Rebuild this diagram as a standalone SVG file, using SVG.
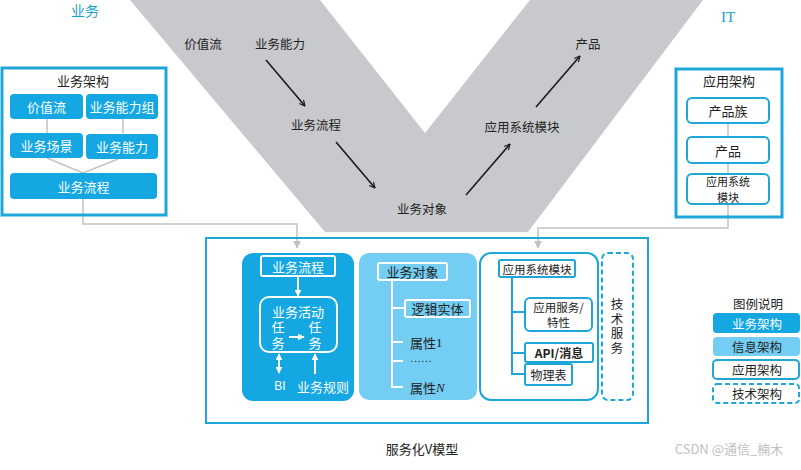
<svg xmlns="http://www.w3.org/2000/svg" width="801" height="470" viewBox="0 0 801 470">
<defs>
<style>
text{font-family:"Noto Sans CJK SC","Noto Sans",sans-serif;dominant-baseline:central;text-anchor:middle}
.vt{font-size:12.5px;fill:#222}
.t13{font-size:13px}
.w{fill:#fff}
.d{fill:#222}
.dark{fill:#14a7e2}
.light{fill:#74cdf2}
.frame{fill:none;stroke:#1ea6d8;stroke-width:3}
.wbox{fill:#fff;stroke:#1ea6d8;stroke-width:2}
.wstroke{fill:none;stroke:#fff;stroke-width:2}
.gl{fill:none;stroke:#c2c2c2;stroke-width:1.5}
.ar{stroke:#1a1a1a;stroke-width:1.6;fill:none;marker-end:url(#open)}
.dash{fill:#fff;stroke:#1ea6d8;stroke-width:2;stroke-dasharray:5 3}
.vert{writing-mode:vertical-rl}
</style>
<marker id="open" viewBox="0 0 10 10" refX="9" refY="5" markerWidth="7" markerHeight="7" orient="auto" markerUnits="userSpaceOnUse">
<path d="M1,1 L9,5 L1,9" fill="none" stroke="#1a1a1a" stroke-width="1.6"/>
</marker>
<marker id="gtri" viewBox="0 0 10 10" refX="9" refY="5" markerWidth="8" markerHeight="8" orient="auto" markerUnits="userSpaceOnUse">
<path d="M0,0 L10,5 L0,10 z" fill="#c2c2c2"/>
</marker>
<marker id="wtri" viewBox="0 0 10 10" refX="9" refY="5" markerWidth="7" markerHeight="7" orient="auto" markerUnits="userSpaceOnUse">
<path d="M0,0 L10,5 L0,10 z" fill="#fff"/>
</marker>
<marker id="wtriS" viewBox="0 0 10 10" refX="1" refY="5" markerWidth="7" markerHeight="7" orient="auto" markerUnits="userSpaceOnUse">
<path d="M10,0 L0,5 L10,10 z" fill="#fff"/>
</marker>
</defs>
<rect width="801" height="470" fill="#fff"/>

<!-- V shape -->
<polygon id="v-shape" points="130,0 320,0 425,133 530,0 703,0 528,232 325,232" fill="#c8c9cc"/>
<text x="85" y="10" style="font-size:14px;fill:#1a9fc6">业务</text>
<text x="728" y="17" style="font-family:'Liberation Serif',serif;font-size:15px;fill:#1a9fc6">IT</text>

<g id="v-labels">
<text class="vt" x="203" y="43">价值流</text>
<text class="vt" x="280" y="43">业务能力</text>
<text class="vt" x="316" y="124">业务流程</text>
<text class="vt" x="422" y="208">业务对象</text>
<text class="vt" x="522" y="126">应用系统模块</text>
<text class="vt" x="588" y="43">产品</text>
</g>

<!-- connectors -->
<g id="connectors">
<line class="ar" x1="266" y1="60" x2="305" y2="106"/>
<line class="ar" x1="336" y1="142" x2="375" y2="188"/>
<line class="ar" x1="466" y1="195" x2="510" y2="144"/>
<line class="ar" x1="536" y1="107" x2="580" y2="56"/>
<line class="gl" x1="47" y1="119" x2="47" y2="133"/>
<line class="gl" x1="123" y1="119" x2="123" y2="133"/>
<polyline class="gl" points="47,158 83,173 118,159"/>
<polyline class="gl" points="83,199 83,224 297,224 297,248" marker-end="url(#gtri)"/>
<line class="gl" x1="728" y1="123" x2="728" y2="137"/>
<line class="gl" x1="728" y1="163" x2="728" y2="174"/>
<polyline class="gl" points="728,204 728,228 538,228 538,248" marker-end="url(#gtri)"/>
</g>

<!-- left box -->
<g id="biz-arch">
<rect class="frame" x="2" y="68" width="164" height="147"/>
<text class="t13 d" x="83" y="80">业务架构</text>
<g id="n-jiazhiliu"><rect class="dark" x="10" y="94" width="73" height="25" rx="4"/><text class="t13 w" x="46.5" y="106.5">价值流</text></g>
<g id="n-nenglizu"><rect class="dark" x="86" y="94" width="72" height="25" rx="4"/><text class="t13 w" x="122" y="106.5">业务能力组</text></g>
<g id="n-changjing"><rect class="dark" x="10" y="133" width="73" height="25" rx="4"/><text class="t13 w" x="46.5" y="145.5">业务场景</text></g>
<g id="n-nengli"><rect class="dark" x="86" y="134" width="72" height="25" rx="4"/><text class="t13 w" x="122" y="146.5">业务能力</text></g>
<g id="n-liucheng"><rect class="dark" x="10" y="173" width="147" height="26" rx="4"/><text class="t13 w" x="83.5" y="186">业务流程</text></g>
</g>

<!-- right box -->
<g id="app-arch">
<rect class="frame" x="676" y="69" width="106" height="148"/>
<text class="t13 d" x="729" y="80">应用架构</text>
<g id="n-chanpinzu"><rect class="wbox" x="687" y="98" width="82" height="25" rx="5"/><text class="t13 d" x="728" y="110.5">产品族</text></g>
<g id="n-chanpin"><rect class="wbox" x="687" y="137" width="82" height="26" rx="5"/><text class="t13 d" x="728" y="150">产品</text></g>
<g id="n-mokuai"><rect class="wbox" x="687" y="174" width="82" height="30" rx="5"/><text class="d" x="728" y="181" style="font-size:11px">应用系统</text><text class="d" x="728" y="197" style="font-size:11px">模块</text></g>
</g>

<!-- main box -->
<g id="main-box">
<rect x="206" y="238" width="442" height="185" fill="none" stroke="#1ea6d8" stroke-width="2"/>
</g>

<!-- column 1 -->
<g id="col-biz">
<rect class="dark" x="242" y="253" width="112" height="148" rx="11"/>
<g id="n-c1-liucheng"><rect class="wstroke" x="261" y="256" width="74" height="20" rx="2"/><text class="t13 w" x="298" y="266">业务流程</text></g>
<line x1="298" y1="276" x2="298" y2="296" stroke="#fff" stroke-width="2" marker-end="url(#wtri)"/>
<g id="n-huodong"><rect class="wstroke" x="260" y="297" width="77" height="55" rx="9"/>
<text class="t13 w" x="298" y="311">业务活动</text>
<text class="t13 w vert" x="278" y="337" style="letter-spacing:3px">任务</text>
<text class="t13 w vert" x="315" y="337" style="letter-spacing:3px">任务</text>
<line x1="289" y1="337" x2="304" y2="337" stroke="#fff" stroke-width="2" marker-end="url(#wtri)"/>
</g>
<line x1="279" y1="354" x2="279" y2="373" stroke="#fff" stroke-width="2" marker-start="url(#wtriS)" marker-end="url(#wtri)"/>
<line x1="315" y1="374" x2="315" y2="354" stroke="#fff" stroke-width="2" marker-end="url(#wtri)"/>
<text class="w" x="280" y="386" style="font-size:12px;font-family:'Liberation Sans',sans-serif">BI</text>
<text class="t13 w" x="323" y="386">业务规则</text>
</g>

<!-- column 2 -->
<g id="col-info">
<rect class="light" x="359" y="253" width="118" height="147" rx="10"/>
<g id="n-duixiang"><rect class="wstroke" x="378" y="263" width="69" height="17" rx="2"/><text class="t13 d" x="412.5" y="271.5">业务对象</text></g>
<polyline fill="none" stroke="#fff" stroke-width="2" points="392,280 392,387 403,387"/>
<line x1="392" y1="308" x2="405" y2="308" stroke="#fff" stroke-width="2"/>
<line x1="392" y1="342" x2="403" y2="342" stroke="#fff" stroke-width="2"/>
<line x1="392" y1="361" x2="403" y2="361" stroke="#fff" stroke-width="2"/>
<g id="n-luoji"><rect class="wstroke" x="405" y="300" width="65" height="17" rx="2"/><text class="t13 d" x="437.5" y="308.5">逻辑实体</text></g>
<text class="t13 d" x="410" y="342" style="text-anchor:start">属性<tspan style="font-family:'Liberation Serif',serif">1</tspan></text>
<text class="d" x="410" y="358" style="text-anchor:start;font-size:11px;font-family:'Liberation Serif',serif">……</text>
<text class="t13 d" x="410" y="387" style="text-anchor:start">属性<tspan style="font-family:'Liberation Serif',serif;font-style:italic">N</tspan></text>
</g>

<!-- column 3 -->
<g id="col-app">
<rect class="wbox" x="480" y="253" width="118" height="147" rx="11"/>
<g id="n-c3-mokuai"><rect class="wbox" x="499" y="260" width="76" height="17" rx="2"/><text class="d" x="537" y="268.5" style="font-size:11.5px">应用系统模块</text></g>
<polyline fill="none" stroke="#1ea6d8" stroke-width="2" points="512,277 512,374 525,374"/>
<line x1="512" y1="312" x2="525" y2="312" stroke="#1ea6d8" stroke-width="2"/>
<line x1="512" y1="353" x2="525" y2="353" stroke="#1ea6d8" stroke-width="2"/>
<g id="n-fuwu"><rect class="wbox" x="525" y="298" width="67" height="33" rx="5"/><text class="d" x="558.5" y="307" style="font-size:11.5px">应用服务/</text><text class="d" x="558.5" y="322" style="font-size:11.5px">特性</text></g>
<g id="n-api"><rect class="wbox" x="525" y="343" width="68" height="19" rx="2"/><text class="d" x="559" y="352.5" style="font-size:12px;font-weight:bold">API/消息</text></g>
<g id="n-wulibiao"><rect class="wbox" x="525" y="364" width="47" height="21" rx="2"/><text class="d" x="548.5" y="374.5" style="font-size:12px">物理表</text></g>
</g>

<!-- column 4 -->
<g id="col-tech">
<rect class="dash" x="602" y="253" width="31" height="147" rx="6"/>
<text class="d vert" x="617" y="327" style="font-size:12.5px;letter-spacing:2px">技术服务</text>
</g>

<!-- legend -->
<g id="legend">
<text class="d" x="758" y="303" style="font-size:12.5px">图例说明</text>
<g id="lg-biz"><rect class="dark" x="713" y="313" width="87" height="20" rx="4"/><text class="w" x="757" y="323" style="font-size:12.5px">业务架构</text></g>
<g id="lg-info"><rect class="light" x="713" y="337" width="87" height="19" rx="4"/><text class="d" x="757" y="346.5" style="font-size:12.5px">信息架构</text></g>
<g id="lg-app"><rect class="wbox" x="713" y="360" width="86" height="19" rx="4"/><text class="d" x="757" y="369.5" style="font-size:12.5px">应用架构</text></g>
<g id="lg-tech"><rect class="dash" x="713" y="384" width="86" height="19" rx="4"/><text class="d" x="757" y="393.5" style="font-size:12.5px">技术架构</text></g>
</g>

<text class="d" x="422" y="448" style="font-size:13px">服务化V模型</text>
<text x="729" y="448" style="font-size:13px;fill:#c0c0c0">CSDN @通信_楠木</text>
</svg>
